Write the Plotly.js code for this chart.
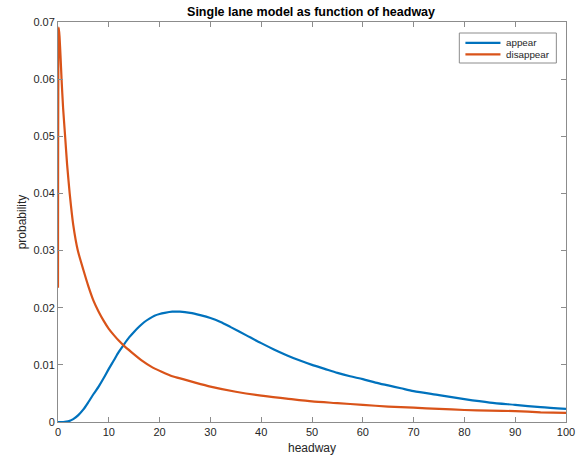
<!DOCTYPE html>
<html>
<head>
<meta charset="utf-8">
<script src="https://cdn.plot.ly/plotly-3.0.1.min.js"></script>
<style>html,body{margin:0;padding:0;background:#fff;}#chart{width:576px;height:458px;}</style>
</head>
<body>
<div id="chart"></div>
<script>
// headway values and probabilities
const appearX = [0, 1, 2, 3, 4, 5, 6, 7, 8, 9, 10, 11, 12, 13, 14, 15, 16, 17, 18, 19, 20, 21, 22.5, 24, 26, 28, 30, 32, 34, 37, 40, 42.5, 45, 47.5, 50, 52.5, 55, 57.5, 60, 62.5, 65, 67.5, 70, 75, 80, 85, 90, 95, 100];
const appearY = [0, 0, 0.0001, 0.0005, 0.0012, 0.0022, 0.0035, 0.0049, 0.0062, 0.0077, 0.0093, 0.0108, 0.0123, 0.0136, 0.0148, 0.0158, 0.0167, 0.0175, 0.0181, 0.0186, 0.0189, 0.0191, 0.0193, 0.0193, 0.0191, 0.0187, 0.0182, 0.0175, 0.0166, 0.0152, 0.0138, 0.0127, 0.0117, 0.0108, 0.0100, 0.0093, 0.0086, 0.0080, 0.0075, 0.0069, 0.0064, 0.0059, 0.0054, 0.0047, 0.0040, 0.0034, 0.0030, 0.0026, 0.0023];

const disappearX = [0, 0.15, 0.3, 0.5, 0.7, 1.0, 1.4, 1.8, 2.3, 3.0, 3.9, 5, 6, 7, 8, 9, 10, 11, 12, 12.8, 14.5, 16.6, 18.5, 20.4, 22.5, 24.6, 27, 30, 35, 40, 45, 50, 55, 60, 65, 70, 75, 80, 85, 90, 95, 100];
const disappearY = [0.0235, 0.069, 0.0675, 0.064, 0.060, 0.055, 0.050, 0.045, 0.040, 0.0345, 0.030, 0.0266, 0.0237, 0.0212, 0.0193, 0.0177, 0.0163, 0.0152, 0.0142, 0.0135, 0.0122, 0.0107, 0.0096, 0.0088, 0.0080, 0.0075, 0.0069, 0.0062, 0.0053, 0.0046, 0.0041, 0.0036, 0.0033, 0.0030, 0.0027, 0.0025, 0.0023, 0.0021, 0.0020, 0.0019, 0.0017, 0.0016];

const seriesNames = ['appear', 'disappear'];
const seriesColors = ['#0072BD', '#D95319'];
const xTicks = [0, 10, 20, 30, 40, 50, 60, 70, 80, 90, 100];
const yTicks = [0, 0.01, 0.02, 0.03, 0.04, 0.05, 0.06, 0.07];
const yTickText = ['0', '0.01', '0.02', '0.03', '0.04', '0.05', '0.06', '0.07'];

const font = 'Liberation Sans, Arial, Helvetica, sans-serif';
const axisCol = '#8c8c8c';
const textCol = '#262626';

const traces = [
  {x: appearX, y: appearY, name: seriesNames[0], type: 'scatter', mode: 'lines',
   line: {color: seriesColors[0], width: 2.2, shape: 'spline', smoothing: 0.8}},
  {x: disappearX, y: disappearY, name: seriesNames[1], type: 'scatter', mode: 'lines',
   line: {color: seriesColors[1], width: 2.2, shape: 'spline', smoothing: 0.5}}
];

const axisCommon = {
  showgrid: false, zeroline: false, showline: true, linecolor: axisCol, linewidth: 1,
  mirror: 'ticks', ticks: 'inside', ticklen: 5, tickcolor: axisCol, tickwidth: 1,
  tickfont: {family: font, size: 11, color: textCol}
};

// MATLAB-style compact legend box (paper coordinates)
const legBox = {x0: 0.790, x1: 0.981, y0: 0.8975, y1: 0.9725};
const legRows = [0.948, 0.919];
const shapes = [{type: 'rect', xref: 'paper', yref: 'paper', x0: legBox.x0, x1: legBox.x1, y0: legBox.y0, y1: legBox.y1,
                 line: {color: axisCol, width: 1}, fillcolor: '#ffffff', layer: 'above'}];
const annotations = [];
seriesNames.forEach((n, i) => {
  shapes.push({type: 'line', xref: 'paper', yref: 'paper', x0: 0.802, x1: 0.871, y0: legRows[i], y1: legRows[i],
               line: {color: seriesColors[i], width: 2.2}, layer: 'above'});
  annotations.push({xref: 'paper', yref: 'paper', x: 0.877, y: legRows[i], xanchor: 'left', yanchor: 'middle',
                    text: n, showarrow: false, font: {family: font, size: 9.8, color: textCol}});
});

const layout = {
  width: 576, height: 458,
  margin: {l: 58, r: 10, t: 22, b: 36, pad: 0},
  paper_bgcolor: '#ffffff', plot_bgcolor: '#ffffff',
  font: {family: font, color: textCol},
  title: {text: 'Single lane model as function of headway', font: {family: font, size: 12.5, color: '#000', weight: 'bold'},
          x: 0.54, xanchor: 'center', y: 0.985, yanchor: 'top'},
  xaxis: Object.assign({}, axisCommon, {range: [0, 100], tickvals: xTicks, ticktext: xTicks.map(String),
          title: {text: 'headway', font: {family: font, size: 12, color: textCol}, standoff: 6}}),
  yaxis: Object.assign({}, axisCommon, {range: [0, 0.07], tickvals: yTicks, ticktext: yTickText,
          title: {text: 'probability', font: {family: font, size: 12, color: textCol}, standoff: 4}}),
  showlegend: false,
  shapes: shapes,
  annotations: annotations
};

Plotly.newPlot('chart', traces, layout, {displayModeBar: false, staticPlot: true});
</script>
</body>
</html>
